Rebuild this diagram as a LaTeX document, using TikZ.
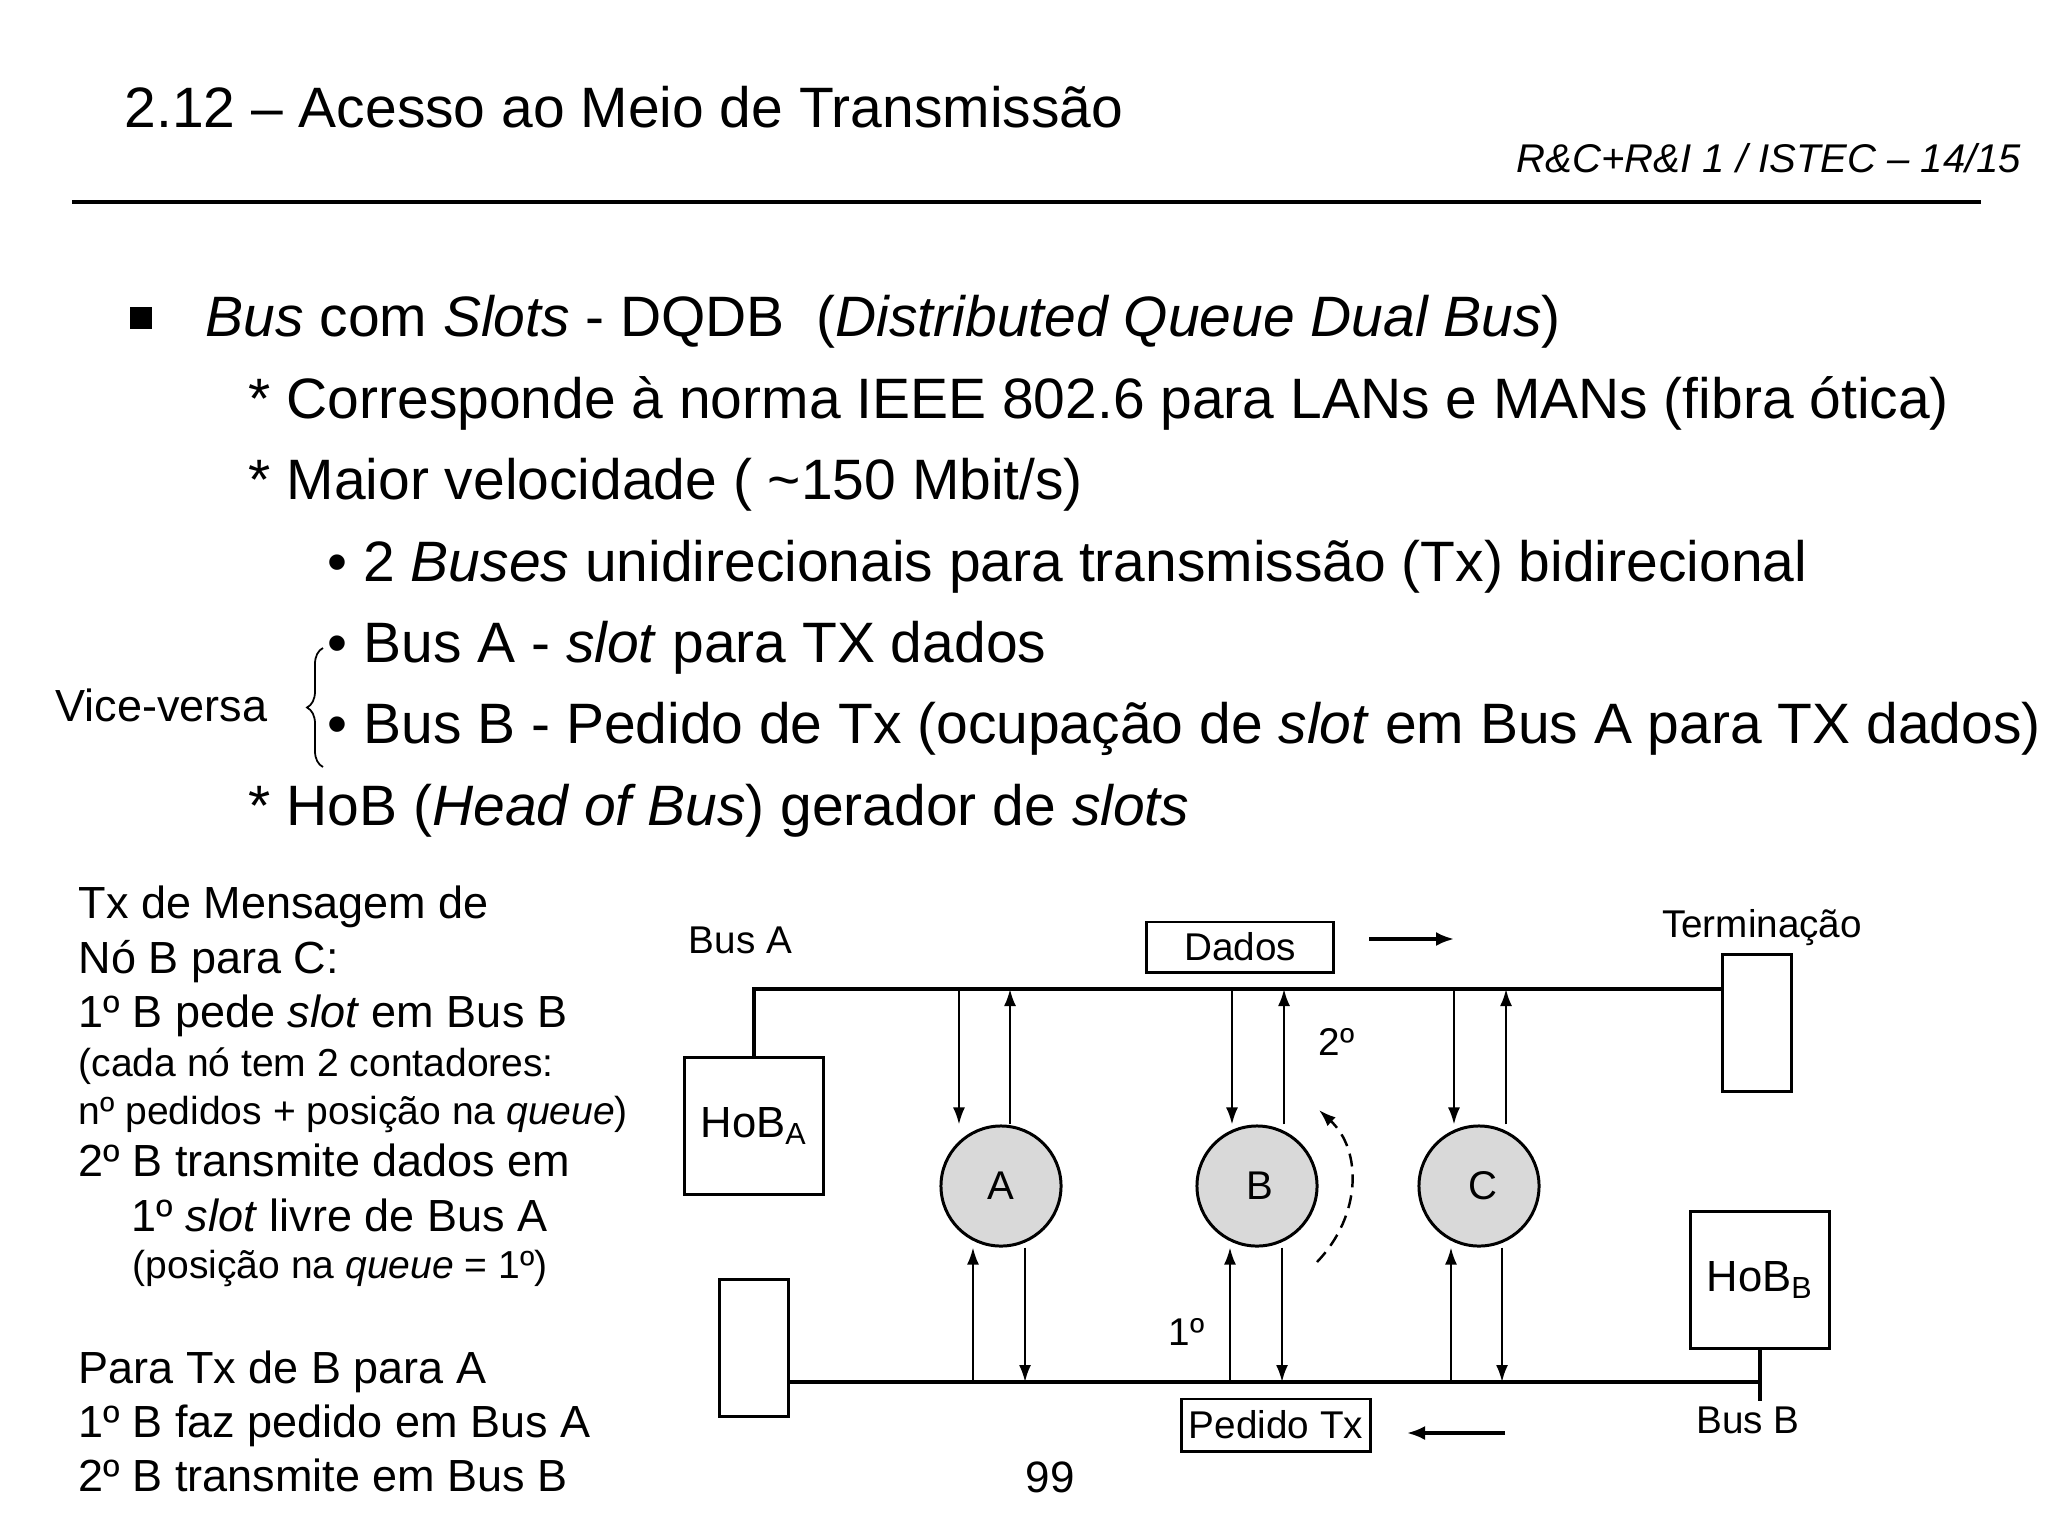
\documentclass[tikz,border=0pt]{standalone}
\usepackage{fontspec}
\setmainfont{Liberation Sans}
\usetikzlibrary{arrows.meta, decorations.pathreplacing}
\definecolor{nodegray}{RGB}{217,217,217}

\begin{document}
\begin{tikzpicture}[
        x=0.01cm, y=-0.01cm,
        >={Latex[length=0.17cm,width=0.12cm]},
        headline/.style={anchor=base west, inner sep=0, font=\fontsize{16.2}{19}\selectfont},
        bodyline/.style={anchor=base west, inner sep=0, font=\fontsize{16.2}{19}\selectfont},
        noteline/.style={anchor=base west, inner sep=0, font=\fontsize{12.8}{15}\selectfont},
        smallnote/.style={anchor=base west, inner sep=0, font=\fontsize{11.1}{13}\selectfont},
        diaglabel/.style={inner sep=0, font=\fontsize{11}{13}\selectfont},
        station/.style={circle, draw, line width=0.85pt, fill=nodegray, minimum size=1.2cm, inner sep=0, font=\fontsize{11.4}{13}\selectfont},
        hobbox/.style={rectangle, draw, line width=0.85pt, minimum width=1.38cm, minimum height=1.37cm, inner sep=0, font=\fontsize{12.4}{14}\selectfont},
        termbox/.style={rectangle, draw, line width=0.85pt, minimum width=0.69cm, minimum height=1.37cm, inner sep=0},
        slotbox/.style={rectangle, draw, line width=0.85pt, minimum height=0.5cm, inner sep=0, font=\fontsize{11}{13}\selectfont},
        bus/.style={line width=0.9pt},
        tap/.style={->, line width=0.65pt},
        flow/.style={-{Latex[length=0.18cm,width=0.14cm]}, line width=0.9pt}
    ]
    \useasboundingbox (0,0) rectangle (2048,1536);

    % --- KOPF ---
    \node[headline] (title) at (124,127) {2.12 – Acesso ao Meio de Transmissão};
    \node[anchor=base east, inner sep=0, font=\fontsize{11.4}{13}\selectfont\itshape] (course) at (2022,172) {R\&C+R\&I 1 / ISTEC – 14/15};
    \draw[line width=0.9pt] (72,202) -- (1981,202);

    % --- TEXT ---
    \node[fill, minimum size=0.22cm, inner sep=0] (sqbullet) at (141,318) {};
    \node[bodyline] (l1) at (205,336) {\textit{Bus} com \textit{Slots} - DQDB~~(\textit{Distributed Queue Dual Bus})};
    \node[bodyline] (l2) at (248,418) {* Corresponde à norma IEEE 802.6 para LANs e MANs (fibra ótica)};
    \node[bodyline] (l3) at (248,499) {* Maior velocidade ( \textasciitilde150 Mbit/s)};
    \node[bodyline] (l4) at (327,581) {• 2 \textit{Buses} unidirecionais para transmissão (Tx) bidirecional};
    \node[bodyline] (l5) at (327,662) {• Bus A - \textit{slot} para TX dados};
    \node[bodyline] (l6) at (327,743) {• Bus B - Pedido de Tx (ocupação de \textit{slot} em Bus A para TX dados)};
    \node[bodyline] (l7) at (248,825) {* HoB (\textit{Head of Bus}) gerador de \textit{slots}};
    \node[noteline] (vice) at (55,721) {Vice-versa};
    \draw[decorate, decoration={brace, amplitude=0.16cm}, line width=0.5pt] (323,767) -- (323,648);

    % --- ERKLAERUNG (LINKS) ---
    \node[noteline] (n1) at (78,918) {Tx de Mensagem de};
    \node[noteline] (n2) at (78,973) {Nó B para C:};
    \node[noteline] (n3) at (78,1027) {1º B pede \textit{slot} em Bus B};
    \node[smallnote] (n4) at (78,1076) {(cada nó tem 2 contadores:};
    \node[smallnote] (n5) at (78,1124) {nº pedidos + posição na \textit{queue})};
    \node[noteline] (n6) at (78,1176) {2º B transmite dados em};
    \node[noteline] (n7) at (131,1231) {1º \textit{slot} livre de Bus A};
    \node[smallnote] (n8) at (132,1278) {(posição na \textit{queue} = 1º)};
    \node[noteline] (n9) at (78,1383) {Para Tx de B para A};
    \node[noteline] (n10) at (78,1437) {1º B faz pedido em Bus A};
    \node[noteline] (n11) at (78,1491) {2º B transmite em Bus B};
    \node[anchor=base, inner sep=0, font=\fontsize{12.5}{15}\selectfont] (page) at (1050,1492) {99};

    % --- DQDB ---
    \node[hobbox] (hobA) at (754,1126) {HoB\textsubscript{A}};
    \node[termbox] (termA) at (1757,1023) {};
    \node[termbox] (termB) at (754,1348) {};
    \node[hobbox] (hobB) at (1760,1280) {HoB\textsubscript{B}};
    \node[station] (nA) at (1001,1186) {A};
    \node[station] (nB) at (1257,1186) {\hspace{0.06cm}B};
    \node[station] (nC) at (1479,1186) {\hspace{0.08cm}C};
    \node[slotbox, minimum width=1.87cm] (dados) at (1240,947) {Dados};
    \node[slotbox, minimum width=1.89cm, minimum height=0.52cm] (pedido) at (1276,1425) {Pedido Tx};
    \node[diaglabel, anchor=base west] (busAlbl) at (688,953) {Bus A};
    \node[diaglabel, anchor=base] (busBlbl) at (1748,1433) {Bus B};
    \node[diaglabel, anchor=base] (termlbl) at (1762,937) {Terminação};
    \node[diaglabel, anchor=base west] (second) at (1318,1055) {2º};
    \node[diaglabel, anchor=base west] (first) at (1168,1345) {1º};

    \coordinate (ya) at (0,989);
    \coordinate (yb) at (0,1382);
    \draw[bus] (hobA.north) |- (termA.west |- ya);
    \draw[bus] ([xshift=-0.03cm]termB.east |- yb) -- (hobB.south |- yb);
    \draw[bus] (hobB.south) -- ++(0,51);

    % Anschluesse Bus A
    \coordinate (a1) at ([xshift=-0.42cm]nA.north);
    \coordinate (a2) at ([xshift=0.09cm]nA.north);
    \coordinate (b1) at ([xshift=-0.25cm]nB.north);
    \coordinate (b2) at ([xshift=0.27cm]nB.north);
    \coordinate (c1) at ([xshift=-0.25cm]nC.north);
    \coordinate (c2) at ([xshift=0.27cm]nC.north);
    \draw[tap] (a1 |- ya) -- (a1);
    \draw[tap] (a2) -- (a2 |- ya);
    \draw[tap] (b1 |- ya) -- (b1);
    \draw[tap] (b2) -- (b2 |- ya);
    \draw[tap] (c1 |- ya) -- (c1);
    \draw[tap] (c2) -- (c2 |- ya);

    % Anschluesse Bus B
    \coordinate (a3) at ([xshift=-0.28cm]nA.south);
    \coordinate (a4) at ([xshift=0.24cm]nA.south);
    \coordinate (b3) at ([xshift=-0.27cm]nB.south);
    \coordinate (b4) at ([xshift=0.25cm]nB.south);
    \coordinate (c3) at ([xshift=-0.28cm]nC.south);
    \coordinate (c4) at ([xshift=0.23cm]nC.south);
    \draw[tap] (a3 |- yb) -- (a3);
    \draw[tap] (a4) -- (a4 |- yb);
    \draw[tap] (b3 |- yb) -- (b3);
    \draw[tap] (b4) -- (b4 |- yb);
    \draw[tap] (c3 |- yb) -- (c3);
    \draw[tap] (c4) -- (c4 |- yb);

    % Richtungen
    \coordinate (dataS) at (1369,939);
    \coordinate (dataE) at (1454,939);
    \coordinate (reqS) at (1505,1433);
    \coordinate (reqE) at (1407,1433);
    \draw[flow] (dataS) -- (dataE);
    \draw[flow] (reqS) -- (reqE);
    \draw[->, line width=0.7pt, dash pattern=on 0.13cm off 0.08cm] (1317,1262) .. controls (1362,1215) and (1362,1150) .. (1319,1110);

\end{tikzpicture}
\end{document}
